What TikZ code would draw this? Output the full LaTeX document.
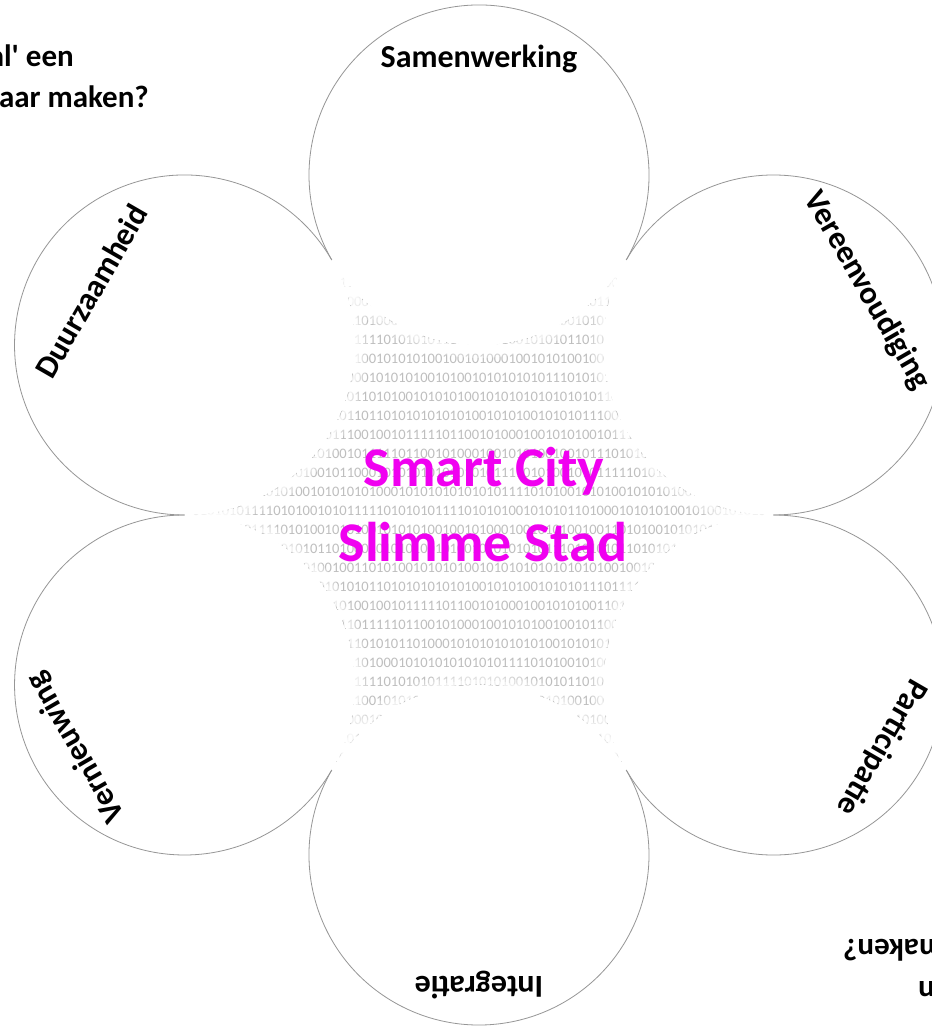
\documentclass[tikz,border=0pt]{standalone}
\usepackage{fontspec}
\setmainfont{Carlito}
\definecolor{ringgray}{RGB}{150,150,150}
\definecolor{bingray}{RGB}{190,190,190}
\definecolor{smartpink}{RGB}{240,0,240}
\def\binA{0111110110010100010010101001001011}
\def\binB{1010101101000101010101010100101010}
\def\binC{0001010101010101010111101010010101}
\def\binD{1010001010101010101011110101001010}
\def\binE{1111010101011110101010010101011010}
\def\binF{1001010101001001010001001010100100}
\def\binG{0010101010010100101010101011101010}
\def\binH{1101010010101010010101010101010101}
\def\binI{1011010101010101001010100101010111}
\def\binJ{0010010111110110010100010010101001}
\begin{document}
\begin{tikzpicture}[x=1pt,y=1pt,
  ring/.style={draw=ringgray, line width=0.8pt},
  lab/.style={font=\bfseries\fontsize{32}{32}\selectfont, text=black, inner sep=0pt},
  qtext/.style={font=\bfseries\fontsize{31}{31}\selectfont, text=black, inner sep=0pt, anchor=base east},
  bin/.style={font=\fontsize{14.5}{14.5}\selectfont, text=bingray, inner sep=0pt, anchor=base},
  big/.style={font=\bfseries\fontsize{56}{56}\selectfont, text=smartpink, inner sep=0pt, anchor=base}]
\useasboundingbox (0,0) rectangle (931,1027);
\fill[white] (0,0) rectangle (931,1027);
\coordinate (O) at (479,512);
\foreach \a/\n in {90/c1,150/c2,210/c3,270/c4,330/c5,30/c6}
  \coordinate (\n) at ([shift={(\a:340)}]O);
% binary background
\begin{scope}
\clip (773.45,512) -- (626.2,767) -- (331.8,767) -- (184.55,512) -- (331.8,257) -- (626.2,257) -- cycle;
\foreach \p/\q/\r [count=\i] in {
 \binA/\binB/\binC, \binB/\binC/\binD, \binC/\binD/\binE, \binD/\binE/\binF,
 \binE/\binF/\binG, \binF/\binG/\binH, \binG/\binH/\binI, \binH/\binI/\binJ,
 \binI/\binJ/\binA, \binJ/\binA/\binB, \binA/\binC/\binE, \binB/\binD/\binF,
 \binC/\binE/\binG, \binD/\binF/\binH, \binE/\binG/\binI, \binF/\binH/\binJ,
 \binG/\binI/\binA, \binH/\binJ/\binB, \binI/\binA/\binC, \binJ/\binB/\binD,
 \binA/\binD/\binG, \binB/\binE/\binH, \binC/\binF/\binI, \binD/\binG/\binJ,
 \binE/\binH/\binA, \binF/\binI/\binB}
  \node[bin, name=b\i] at (479,{739-19*(\i-1)}) {\p\q\r};
\end{scope}
% white petals with soft edge
\foreach \n in {c1,c2,c3,c4,c5,c6} {
  \draw[white, opacity=0.3, line width=4pt] (\n) circle (181);
  \draw[white, opacity=0.5, line width=4pt] (\n) circle (177);
  \draw[white, opacity=0.75, line width=4pt] (\n) circle (173);
  \fill[white] (\n) circle (170);
}
% outer arcs
\foreach \n/\s/\e in {c1/-30/210, c2/30/270, c3/90/330, c4/150/390, c5/210/450, c6/-90/150}
  \draw[ring] ([shift={(\s:170)}]\n) arc[start angle=\s, end angle=\e, radius=170];
% labels
\node[lab] (t1) at ([shift={(90:116)}]c1) {Samenwerking};
\node[lab, rotate=60] (t2) at ([shift={(150:108)}]c2) {Duurzaamheid};
\node[lab, rotate=120] (t3) at ([shift={(210:125)}]c3) {Vernieuwing};
\node[lab, rotate=180] (t4) at ([shift={(270:130)}]c4) {Integratie};
\node[lab, rotate=240] (t5) at ([shift={(330:125)}]c5) {Participatie};
\node[lab, rotate=-60] (t6) at ([shift={(30:108)}]c6) {Vereenvoudiging};
% centre title
\node[big] (s1) at (484,540) {Smart City};
\node[big] (s2) at (483,465) {Slimme Stad};
% cut-off question text
\node[qtext] (q1) at (74,960) {al\textquotesingle{} een};
\node[qtext] (q2) at (149,919) {aar maken?};
\node[qtext, rotate=180] (q3) at (843,87) {aar maken?};
\node[qtext, rotate=180] (q4) at (918,46) {al\textquotesingle{} een};
\end{tikzpicture}
\end{document}
